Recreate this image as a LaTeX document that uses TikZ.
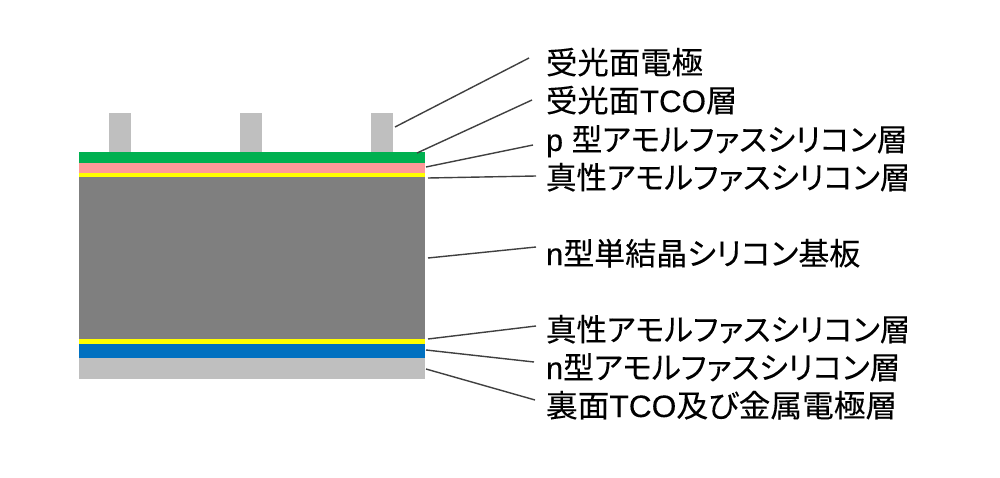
\documentclass[tikz,border=0pt]{standalone}
\usepackage{graphicx}
\usepackage{fontspec}
\setmainfont[FakeBold=0.12]{Liberation Sans}
\newfontfamily\cjk[RawFeature=+palt,FakeBold=0.12]{Noto Sans CJK JP}
\definecolor{cgreen}{HTML}{00B050}
\definecolor{cpink}{HTML}{FF9999}
\definecolor{cyel}{HTML}{FFFF00}
\definecolor{cgray}{HTML}{7F7F7F}
\definecolor{cblue}{HTML}{0070C0}
\definecolor{clight}{HTML}{BFBFBF}
\newcommand{\J}[1]{{\cjk #1}}
\newcommand{\W}[2]{\scalebox{#1}[1]{#2}}
\tikzset{
  layer/.style={inner sep=0pt,outer sep=0pt,minimum width=346pt,anchor=north west},
  finger/.style={inner sep=0pt,outer sep=0pt,minimum width=22pt,minimum height=39pt,anchor=north west,fill=clight},
  lbl/.style={inner sep=0pt,outer sep=0pt,anchor=base west,font=\fontsize{31}{31}\selectfont},
  lead/.style={draw=black!75,line width=1.4pt}
}
\begin{document}
\begin{tikzpicture}[x=1pt,y=-1pt]
\useasboundingbox[fill=white] (0,0) rectangle (1000,478);
\node[finger] (f1) at (109,113) {};
\node[finger] (f2) at (240,113) {};
\node[finger] (f3) at (371,113) {};
\node[layer,fill=cgreen,minimum height=11pt] (tco) at (79,152) {};
\node[layer,fill=cpink,minimum height=10pt] (p) at (79,163) {};
\node[layer,fill=cyel,minimum height=4pt] (i1) at (79,173) {};
\node[layer,fill=cgray,minimum height=162pt] (sub) at (79,177) {};
\node[layer,fill=cyel,minimum height=5pt] (i2) at (79,339) {};
\node[layer,fill=cblue,minimum height=14pt] (n) at (79,344) {};
\node[layer,fill=clight,minimum height=21pt] (back) at (79,358) {};
\node[lbl] (t1) at (546,74) {\W{1.013}{\J{受光面電極}}};
\node[lbl] (t2) at (546,112) {\W{1.01}{\J{受光面}TCO\J{層}}};
\node[lbl] (t3) at (546,151) {\W{0.99}{p \J{型アモルファスシリコン層}}};
\node[lbl] (t4) at (546,189) {\W{0.984}{\J{真性アモルファスシリコン層}}};
\node[lbl] (t5) at (546,265) {n\J{型単結晶シリコン基板}};
\node[lbl] (t6) at (546,341) {\W{0.984}{\J{真性アモルファスシリコン層}}};
\node[lbl] (t7) at (546,379) {\W{0.994}{n\J{型アモルファスシリコン層}}};
\node[lbl] (t8) at (546,417) {\W{1.023}{\J{裏面}TCO\J{及び金属電極層}}};
\coordinate (a1) at (395,127); \coordinate (b1) at (529,58);
\coordinate (a2) at (417,153); \coordinate (b2) at (532,100);
\coordinate (a3) at (426,167); \coordinate (b3) at (533,145);
\coordinate (a4) at (428,178); \coordinate (b4) at (536,176);
\coordinate (a5) at (428,258); \coordinate (b5) at (536,247);
\coordinate (a6) at (428,339); \coordinate (b6) at (536,326);
\coordinate (a7) at (426,350); \coordinate (b7) at (534,362);
\coordinate (a8) at (426,369); \coordinate (b8) at (535,400);
\foreach \i in {1,...,8} {\draw[lead] (a\i) -- (b\i);}
\end{tikzpicture}
\end{document}
